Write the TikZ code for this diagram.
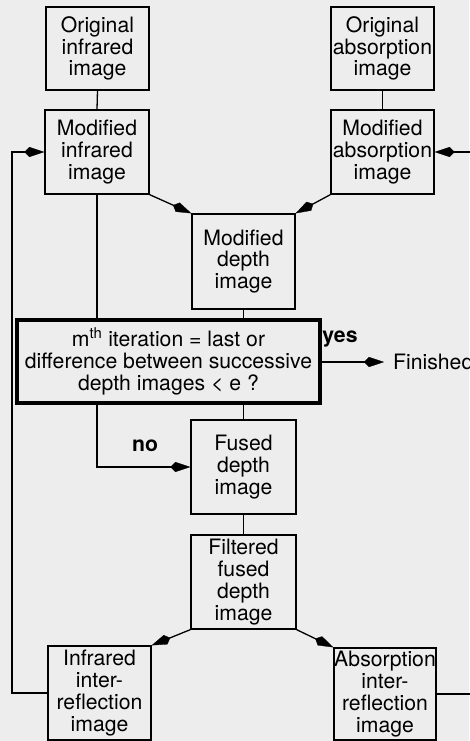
\documentclass[tikz,border=0pt]{standalone}
\usepackage{fontspec}
\setmainfont{TeX Gyre Heros}
\usetikzlibrary{arrows.meta}
\definecolor{paper}{HTML}{EDEDED}
\tikzset{
  box/.style={draw=black, line width=1.3pt, inner sep=0pt, align=center,
    font=\fontsize{21.2}{21.8}\selectfont},
  decbox/.style={draw=black, line width=3.4pt, inner sep=0pt, align=center,
    font=\fontsize{21.2}{22}\selectfont},
  conn/.style={line width=1.3pt},
  arr/.style={line width=1.3pt, -{Kite[length=20pt,width=10pt,inset=5pt,line width=0.3pt]}},
  lbl/.style={font=\fontsize{21.2}{22}\selectfont\bfseries, inner sep=0pt},
  plain/.style={font=\fontsize{21.2}{22}\selectfont, inner sep=0pt, anchor=west}
}
\begin{document}
\begin{tikzpicture}[x=1pt,y=-1pt]
\fill[paper] (0,0) rectangle (469,741);
\useasboundingbox (0,0) rectangle (469,741);

\node[box, minimum width=103pt, minimum height=83pt] (oi) at (97.5,48.5) {Original\\infrared\\image};
\node[box, minimum width=103pt, minimum height=83pt] (oa) at (382.5,48.5) {Original\\absorption\\image};
\node[box, minimum width=104pt, minimum height=84pt] (mi) at (97,152) {Modified\\infrared\\image};
\node[box, minimum width=103pt, minimum height=84pt] (ma) at (382.5,152) {Modified\\absorption\\image};
\node[box, minimum width=103pt, minimum height=95pt] (md) at (243.5,261.5) {Modified\\depth\\image};
\node[decbox, minimum width=303pt, minimum height=83pt] (dec) at (168.5,361.5)
  {m\textsuperscript{th} iteration = last or\\difference between successive\\depth images < e ?};
\node[box, minimum width=105pt, minimum height=94pt] (fd) at (243.5,467) {Fused\\depth\\image};
\node[box, minimum width=105pt, minimum height=94pt] (ffd) at (243.5,582) {Filtered\\fused\\depth\\image};
\node[box, minimum width=103pt, minimum height=94pt] (ii) at (99.5,693) {Infrared\\inter-\\reflection\\image};
\node[box, minimum width=102pt, minimum height=92pt] (ai) at (385,694) {Absorption\\inter-\\reflection\\image};

\node[plain] (fin) at (393,362) {Finished};
\node[lbl] (yes) at (340,339) {yes};
\node[lbl] (no) at (145,446) {no};

\draw[conn] (oi.south) -- (mi.north);
\draw[conn] (oa.south) -- (ma.north);
\draw[arr] (mi.south east) -- (md.north west);
\draw[arr] (ma.south west) -- (md.north east);
\draw[conn] (mi.south) -- (mi.south |- dec.north);
\draw[conn] (md.south) -- (md.south |- dec.north);
\draw[arr] (dec.east |- fin.west) -- ([xshift=-9pt]fin.west);
\draw[arr] (mi.south |- dec.south) -- (mi.south |- fd.west) -- (fd.west);
\draw[conn] (fd.north |- dec.south) -- (fd.north);
\draw[conn] (fd.south) -- (ffd.north);
\draw[arr] (ffd.south west) -- (ii.north east);
\draw[arr] (ffd.south east) -- (ai.north west);
\coordinate (lc) at (12,693);
\draw[arr] (ii.west) -- (lc) |- (mi.west);
\coordinate (rc) at (485,694);
\draw[arr] (ai.east) -- (rc) |- (ma.east);
\end{tikzpicture}
\end{document}
